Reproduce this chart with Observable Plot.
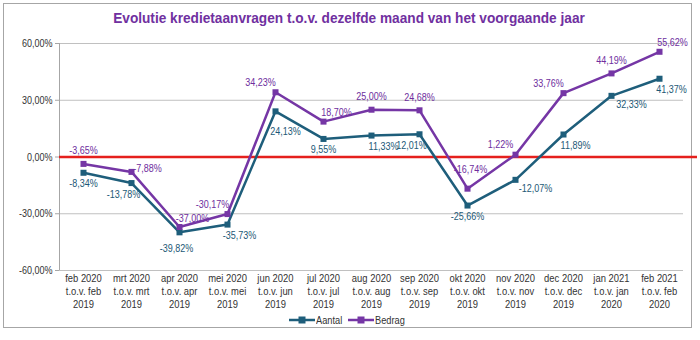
<!DOCTYPE html>
<html>
<head>
<meta charset="utf-8">
<script src="https://cdn.jsdelivr.net/npm/d3@7"></script>
<script src="https://cdn.jsdelivr.net/npm/@observablehq/plot@0.6"></script>
<style>
  body { margin: 0; background: #fff; }
  #wrap { position: relative; width: 700px; height: 340px; overflow: hidden;
          font-family: "Liberation Sans", Arial, sans-serif; }
  #frame { position: absolute; left: 3px; top: 3px; width: 689px; height: 325px; border: 1px solid #a6a6a6; box-sizing: border-box; }
  #title { position: absolute; left: 0; top: 9px; width: 698px; text-align: center; color: #7030A0;
           font-weight: bold; font-size: 15px; white-space: nowrap; transform: scaleX(0.91); transform-origin: 349px 0; }
  #chart { position: absolute; left: 0; top: 0; }
  #legend { position: absolute; left: 0; top: 314px; width: 694px; display: flex; justify-content: center;
            gap: 6px; font-size: 11px; color: #333; align-items: center; }
  #legend span.item { display: inline-flex; align-items: center; gap: 1px; }
  #legend span.lab { display: inline-block; transform: scaleX(0.84); transform-origin: 0 50%; margin-right: -5px; }
</style>
</head>
<body>
<div id="wrap">
  <div id="frame"></div>
  <div id="title">Evolutie kredietaanvragen t.o.v. dezelfde maand van het voorgaande jaar</div>
  <div id="chart"></div>
  <div id="legend"></div>
</div>
<script>
// ---- data ----
const months = ["feb 2020","mrt 2020","apr 2020","mei 2020","jun 2020","jul 2020","aug 2020",
                "sep 2020","okt 2020","nov 2020","dec 2020","jan 2021","feb 2021"];
const compareTo = ["t.o.v. feb","t.o.v. mrt","t.o.v. apr","t.o.v. mei","t.o.v. jun","t.o.v. jul","t.o.v. aug",
                   "t.o.v. sep","t.o.v. okt","t.o.v. nov","t.o.v. dec","t.o.v. jan","t.o.v. feb"];
const prevYear = ["2019","2019","2019","2019","2019","2019","2019","2019","2019","2019","2019","2020","2020"];
const seriesNames = ["Aantal","Bedrag"];
const aantal = [-8.34, -13.78, -39.82, -35.73, 24.13, 9.55, 11.33, 12.01, -25.66, -12.07, 11.89, 32.33, 41.37];
const bedrag = [-3.65, -7.88, -37.00, -30.17, 34.23, 18.70, 25.00, 24.68, -16.74, 1.22, 33.76, 44.19, 55.62];
const yTicks = [-60, -30, 0, 30, 60];

// ---- styling (label placement per point, colours) ----
const aantalPlacement = ["S","SW","SS","SE","SSE","S","SE","SW","S","ESE","SE","ESE","SE"];
const bedragPlacement = ["N","E","NE","NW","NW","NE","N","N","NN","NW","NW","N","NE"];
const placementOffsets = { N:[0,-13], NN:[3,-19], NW:[-15,-10], NE:[13,-9], E:[16,-3],
                           S:[0,11], SS:[-3,16], SW:[-8,11], SE:[12,11], SSE:[10,20], ESE:[20,9] };
const colors = ["#1E5E7B", "#7536A5"];
const labelColors = ["#1C5876", "#6E2E9E"];
const condense = 0.82;

const fmt = v => v.toFixed(2).replace(".", ",") + "%";
const categories = months.map((m, i) => `${m}\n${compareTo[i]}\n${prevYear[i]}`);
const rows = categories.flatMap((c, i) => [
  { cat: c, series: "Aantal", value: aantal[i], pos: aantalPlacement[i] },
  { cat: c, series: "Bedrag", value: bedrag[i], pos: bedragPlacement[i] }
]);

const font = '"Liberation Sans", Arial, sans-serif';

const chart = Plot.plot({
  width: 700, height: 340,
  marginLeft: 59, marginRight: 17, marginTop: 43, marginBottom: 70,
  style: { fontFamily: font, fontSize: "11px", color: "#333", background: "transparent", overflow: "visible" },
  x: { type: "point", domain: categories, padding: 0.5, label: null },
  y: { domain: [-60, 60], label: null },
  color: { domain: seriesNames, range: colors },
  marks: [
    Plot.ruleY(yTicks.filter(t => t !== 0), { stroke: "#c0c0c0", strokeWidth: 1 }),
    Plot.ruleX([categories[0]], { dx: -24, y1: -60, y2: 60, stroke: "#a6a6a6" }),
    Plot.axisY({ ticks: yTicks, tickSize: 4, tickPadding: 3, tickFormat: fmt, stroke: "#a6a6a6", fill: "#333", fontSize: 11 }),
    Plot.axisX({ tickSize: 0, tickPadding: 3, lineHeight: 1.1, fontSize: 11.5, fill: "#333" }),
    Plot.ruleY([0], { stroke: "#e5201d", strokeWidth: 2.5, insetRight: -14 }),
    Plot.line(rows, { x: "cat", y: "value", stroke: "series", z: "series", strokeWidth: 2.5 }),
    Plot.dot(rows, { x: "cat", y: "value", fill: "series", symbol: "square", r: 3.4 }),
    ...Object.entries(placementOffsets).map(([code, [dx, dy]]) =>
      Plot.text(rows.filter(d => d.pos === code), {
        x: "cat", y: "value", text: d => fmt(d.value), dx, dy, fontSize: 11,
        fill: d => labelColors[seriesNames.indexOf(d.series)]
      }))
  ]
});
document.getElementById("chart").appendChild(chart);

// condense all chart text horizontally about its anchor (narrow typeface look)
chart.querySelectorAll("text").forEach(t => {
  const bb = t.getBBox();
  const anchor = getComputedStyle(t).textAnchor;
  const ax = anchor === "middle" ? bb.x + bb.width / 2 : anchor === "end" ? bb.x + bb.width : bb.x;
  const tr = t.getAttribute("transform") || "";
  t.setAttribute("transform", `${tr} translate(${ax},0) scale(${condense},1) translate(${-ax},0)`);
});

// legend
const legend = document.getElementById("legend");
seriesNames.forEach((name, i) => {
  const item = document.createElement("span");
  item.className = "item";
  item.innerHTML = `<svg width="26" height="10"><line x1="0" x2="26" y1="5" y2="5" stroke="${colors[i]}" stroke-width="2.5"/><rect x="9.5" y="1.5" width="7" height="7" fill="${colors[i]}"/></svg><span class="lab">${name}</span>`;
  legend.appendChild(item);
});
</script>
</body>
</html>
